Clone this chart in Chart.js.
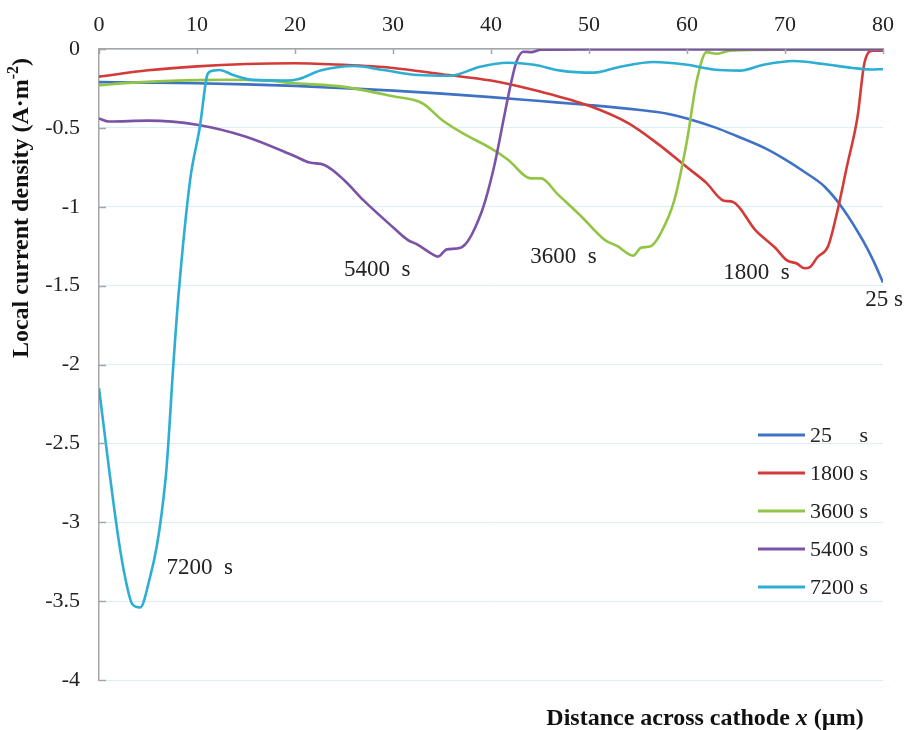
<!DOCTYPE html>
<html lang="en">
<head>
  <meta charset="UTF-8" />
  <title>Local current density</title>
  <script src="https://cdn.jsdelivr.net/npm/chart.js"></script>
  <style>
    html, body { margin: 0; padding: 0; background: #fff; }
    #wrap { width: 907px; height: 730px; }
  </style>
</head>
<body>
  <div id="wrap"><canvas id="chart" width="907" height="730"></canvas></div>

  <script>
    // series (x in µm, y in A·m-2)
    const x25 = [0,5,10,15,20,25,30,35,40,45,50,55,58,60,63,65,68,70,72,74,76,78,79,80];
    const y25 = [-0.21,-0.213,-0.217,-0.224,-0.234,-0.248,-0.264,-0.283,-0.305,-0.33,-0.355,-0.385,-0.41,-0.44,-0.50,-0.55,-0.63,-0.70,-0.78,-0.87,-1.02,-1.22,-1.34,-1.48];

    const x1800 = [0,5,10,15,20,25,30,35,40,45,50,54,57,60,62,63.7,64.7,67,69,70.2,71.2,72,72.6,73.3,74.4,75.3,76.3,77.4,78.1,79,80];
    const y1800 = [-0.175,-0.135,-0.11,-0.095,-0.09,-0.10,-0.12,-0.16,-0.20,-0.27,-0.36,-0.47,-0.60,-0.75,-0.85,-0.96,-0.97,-1.15,-1.26,-1.34,-1.36,-1.39,-1.38,-1.32,-1.25,-1.04,-0.75,-0.43,-0.09,-0.01,-0.01];

    const x3600 = [0,3,6,10,13,17,20,25,30,33,35,37,40,41.7,44.1,45.1,46.8,49.2,51.6,52.9,54.5,55.3,56.3,57.3,58.7,60,61,62,63,64.4,70,80];
    const y3600 = [-0.23,-0.215,-0.205,-0.197,-0.195,-0.20,-0.217,-0.24,-0.30,-0.344,-0.45,-0.53,-0.63,-0.70,-0.82,-0.82,-0.92,-1.06,-1.21,-1.25,-1.31,-1.26,-1.25,-1.17,-0.96,-0.58,-0.20,-0.02,-0.03,-0.01,-0.005,-0.005];

    const x5400 = [0,1,5,10,15,20,21.5,23,25,27,30,31.5,32.5,34,34.6,35.5,36.9,39,40.3,41.4,42.1,42.6,43.3,44.1,45.1,50,80];
    const y5400 = [-0.44,-0.46,-0.454,-0.48,-0.556,-0.68,-0.72,-0.735,-0.83,-0.96,-1.13,-1.21,-1.24,-1.30,-1.316,-1.27,-1.26,-1.04,-0.75,-0.41,-0.20,-0.08,-0.017,-0.02,-0.005,-0.003,-0.003];

    const x7200 = [0,1,2,2.7,3.4,4.2,5.2,5.9,6.4,6.9,7.6,8.1,9.3,10.3,11,11.3,12.3,13.7,15.7,19.1,20.4,22.6,26,29,32.5,35.8,38.9,41.7,44.4,47.1,50.5,53.2,56.6,60,62.7,65.4,67.8,70.9,73.9,76.9,78.7,80];
    const y7200 = [-2.15,-2.65,-3.11,-3.36,-3.52,-3.54,-3.35,-3.15,-2.94,-2.65,-1.99,-1.57,-0.83,-0.49,-0.175,-0.144,-0.133,-0.165,-0.196,-0.20,-0.19,-0.137,-0.108,-0.133,-0.165,-0.17,-0.112,-0.087,-0.10,-0.137,-0.15,-0.112,-0.082,-0.10,-0.13,-0.137,-0.10,-0.076,-0.095,-0.12,-0.13,-0.128];

    const seriesNames = ['25', '1800', '3600', '5400', '7200'];
    const seriesX = [x25, x1800, x3600, x5400, x7200];
    const seriesY = [y25, y1800, y3600, y5400, y7200];
    const colors = ['#3f72c4', '#d23b38', '#92c545', '#7a52a6', '#2daed2'];

    // curve labels, anchored in data units
    const noteText = ['25 s', '1800  s', '3600  s', '5400  s', '7200  s'];
    const noteX = [78.2, 63.7, 44.0, 25.0, 6.9];
    const noteY = [-1.59, -1.42, -1.32, -1.40, -3.29];

    const xTicks = [0, 10, 20, 30, 40, 50, 60, 70, 80];

    const serif = "'Liberation Serif', 'Times New Roman', serif";
    const axisGray = '#a6a6a6';

    const datasets = seriesNames.map((n, i) => ({
      label: n + ' s',
      data: seriesX[i].map((x, j) => ({ x: x, y: seriesY[i][j] })),
      borderColor: colors[i],
      borderWidth: 2.6,
      pointRadius: 0,
      fill: false,
      cubicInterpolationMode: 'monotone',
      order: 5 - i
    }));

    const extras = {
      id: 'extras',
      afterDraw(chart) {
        const ctx = chart.ctx;
        const xs = chart.scales.x, ys = chart.scales.y;
        const area = chart.chartArea;
        ctx.save();

        // inner tick marks
        ctx.strokeStyle = axisGray;
        ctx.lineWidth = 1.5;
        xTicks.forEach(v => {
          const px = Math.round(xs.getPixelForValue(v)) + 0.5;
          ctx.beginPath(); ctx.moveTo(px, area.top); ctx.lineTo(px, area.top + 5); ctx.stroke();
        });
        ys.ticks.forEach(t => {
          const py = Math.round(ys.getPixelForValue(t.value)) + 0.5;
          ctx.beginPath(); ctx.moveTo(area.left, py); ctx.lineTo(area.left + 7, py); ctx.stroke();
        });

        // curve labels
        ctx.fillStyle = '#222';
        ctx.font = '23px ' + serif;
        ctx.textAlign = 'left';
        ctx.textBaseline = 'middle';
        noteText.forEach((t, i) => {
          ctx.fillText(t, xs.getPixelForValue(noteX[i]), ys.getPixelForValue(noteY[i]));
        });

        // legend
        ctx.font = '22px ' + serif;
        const lx = 758, ltop = 435, step = 38;
        const sx = lx + 52 + ctx.measureText('1800 ').width;
        seriesNames.forEach((n, i) => {
          const y = ltop + i * step;
          ctx.strokeStyle = colors[i];
          ctx.lineWidth = 3;
          ctx.beginPath(); ctx.moveTo(lx, y); ctx.lineTo(lx + 47, y); ctx.stroke();
          ctx.fillText(n, lx + 52, y + 1);
          ctx.fillText('s', sx, y + 1);
        });

        // y title with superscript
        ctx.save();
        ctx.translate(22, 208);
        ctx.rotate(-Math.PI / 2);
        const bold = 'bold 24px ' + serif, sup = 'bold 16px ' + serif;
        const p1 = 'Local current density (A·m', p2 = '-2', p3 = ')';
        ctx.font = bold; const w1 = ctx.measureText(p1).width, w3 = ctx.measureText(p3).width;
        ctx.font = sup; const w2 = ctx.measureText(p2).width;
        let cx = -(w1 + w2 + w3) / 2;
        ctx.fillStyle = '#111';
        ctx.font = bold; ctx.fillText(p1, cx, 0); cx += w1;
        ctx.font = sup; ctx.fillText(p2, cx, -8); cx += w2;
        ctx.font = bold; ctx.fillText(p3, cx, 0);
        ctx.restore();

        // x title with italic x
        const q1 = 'Distance across cathode ', q2 = 'x', q3 = ' (µm)';
        const ib = 'italic bold 24px ' + serif;
        ctx.font = bold; const v1 = ctx.measureText(q1).width, v3 = ctx.measureText(q3).width;
        ctx.font = ib; const v2 = ctx.measureText(q2).width;
        let tx = 705 - (v1 + v2 + v3) / 2;
        ctx.fillStyle = '#111';
        ctx.font = bold; ctx.fillText(q1, tx, 719); tx += v1;
        ctx.font = ib; ctx.fillText(q2, tx, 719); tx += v2;
        ctx.font = bold; ctx.fillText(q3, tx, 719);

        ctx.restore();
      }
    };

    new Chart(document.getElementById('chart'), {
      type: 'line',
      data: { datasets: datasets },
      plugins: [extras],
      options: {
        responsive: false,
        animation: false,
        layout: { padding: { left: 0, right: 24, top: 0, bottom: 50 } },
        plugins: { legend: { display: false }, tooltip: { enabled: false } },
        scales: {
          x: {
            type: 'linear',
            position: 'top',
            min: 0, max: 80,
            afterFit: s => { s.height = 49; },
            afterBuildTicks: s => { s.ticks = xTicks.map(v => ({ value: v })); },
            grid: { display: false, drawTicks: false },
            border: { color: axisGray, width: 1.5 },
            ticks: { color: '#222', font: { family: serif, size: 22 }, padding: 11, maxRotation: 0 }
          },
          y: {
            min: -4, max: 0,
            afterFit: s => { s.width = 99; },
            grid: { color: '#d6eff9', lineWidth: 1, drawTicks: false },
            border: { color: axisGray, width: 1.5 },
            ticks: { stepSize: 0.5, color: '#222', font: { family: serif, size: 22 }, padding: 19,
                     callback: v => String(v) }
          }
        }
      }
    });
  </script>
</body>
</html>
